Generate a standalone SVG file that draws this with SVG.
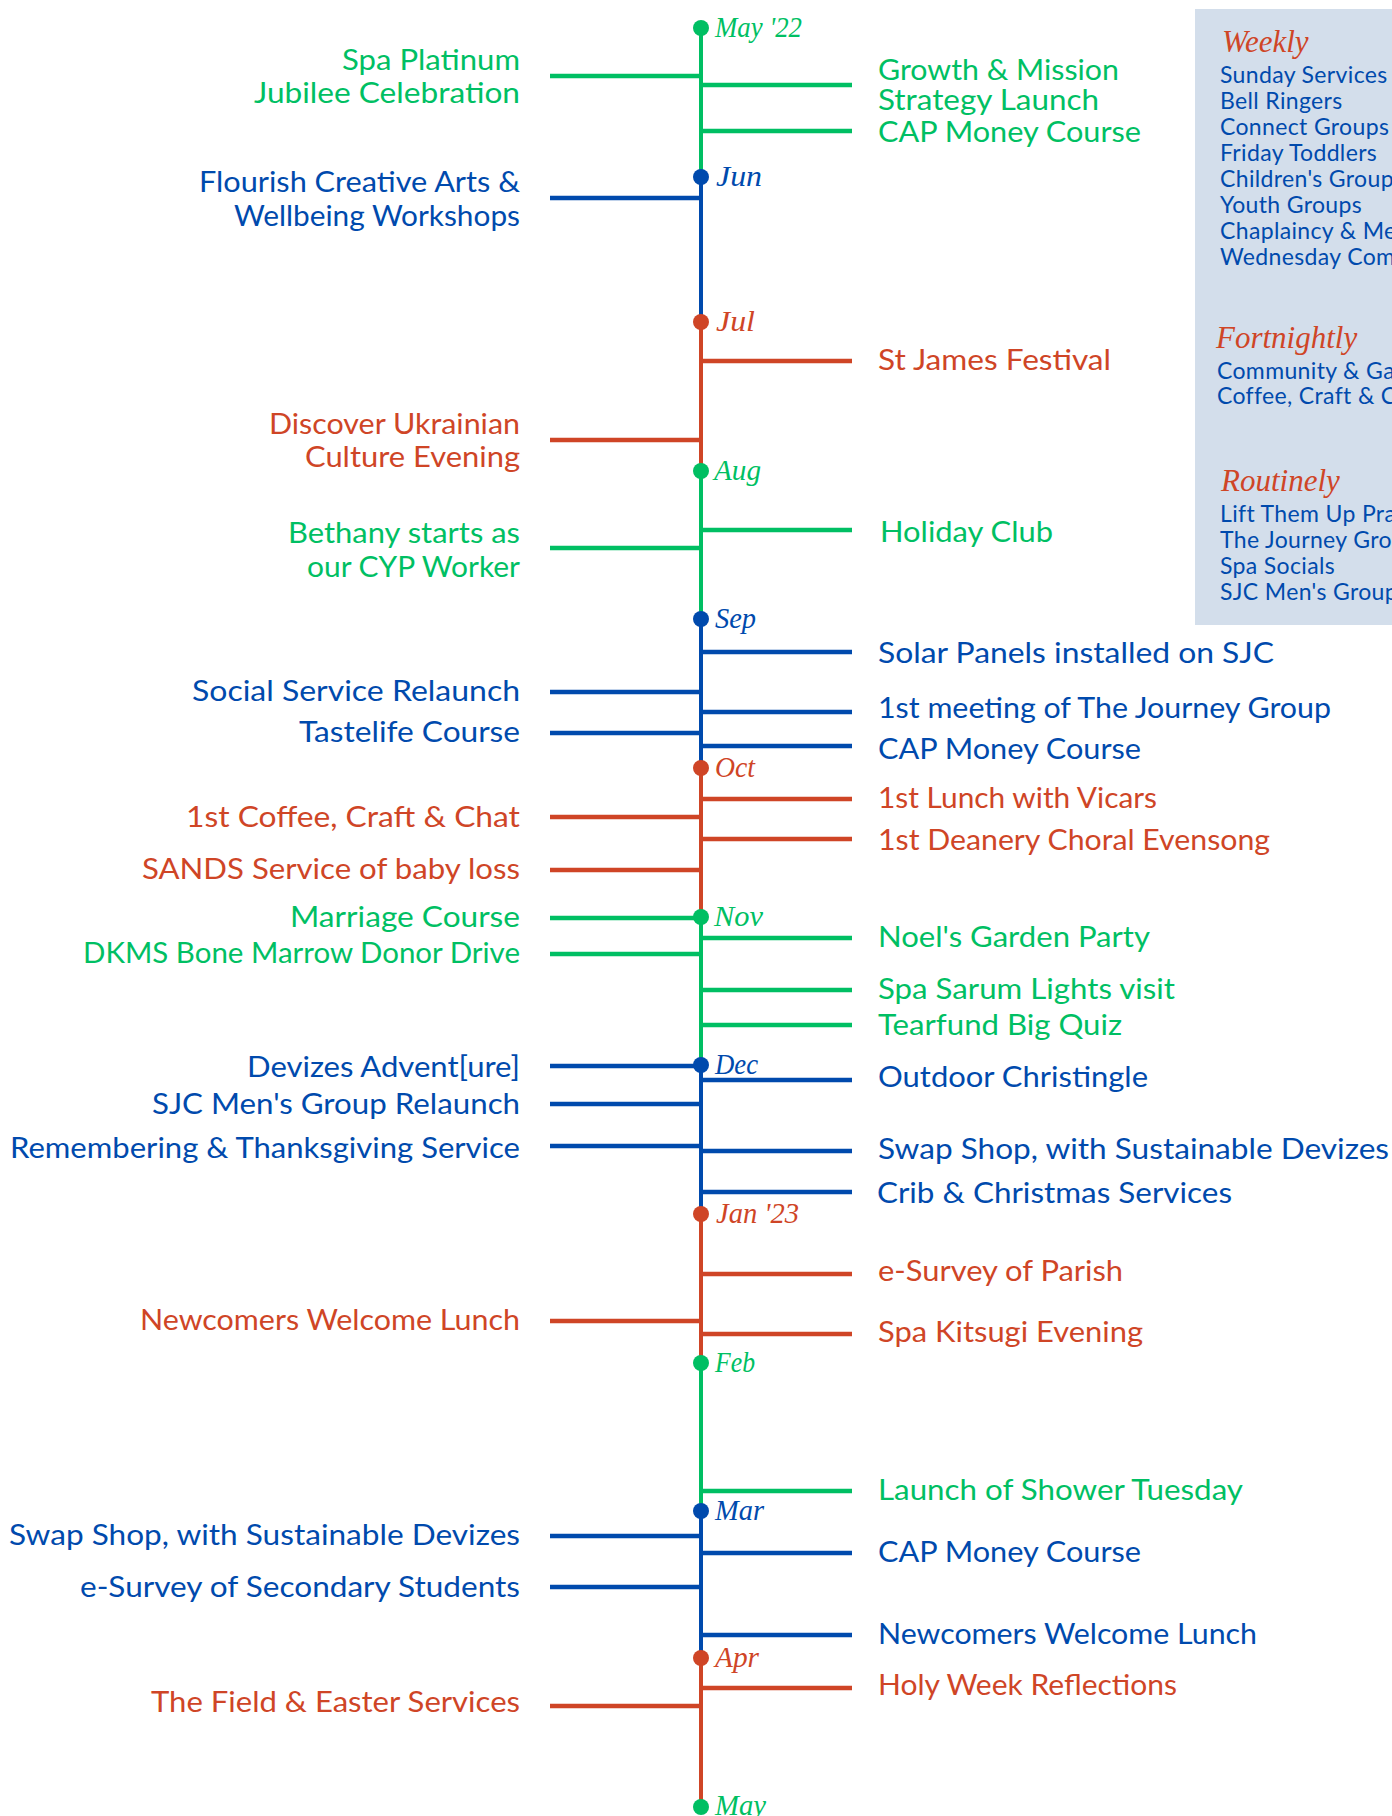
<svg xmlns="http://www.w3.org/2000/svg" width="1392" height="1816" viewBox="0 0 1392 1816">
<defs>
<style>
.lb{font-family:Lato,"Open Sans","Liberation Sans",sans-serif;font-size:29px}
.l{text-anchor:end}
.g{fill:#00BF63}.b{fill:#004AAD}.r{fill:#CF4526}
.mo{font-family:"Liberation Serif","DejaVu Serif",serif;font-style:italic;font-size:29px}
.hd{font-family:"Liberation Serif","DejaVu Serif",serif;font-style:italic;font-size:31px;fill:#CF4526}
.it{font-family:Lato,"Open Sans","Liberation Sans",sans-serif;font-size:23px;letter-spacing:0.35px;fill:#004AAD}
.cg,.cb,.cr{stroke-width:4.5;fill:none}
.cg{stroke:#00BF63}.cb{stroke:#004AAD}.cr{stroke:#CF4526}
.sp{stroke-width:4}
</style>
<clipPath id="panelClip"><rect x="1195" y="9" width="197" height="616"/></clipPath>
</defs>
<rect width="1392" height="1816" fill="#ffffff"/>

<g id="connectors">
  <line class="cg sp" x1="701" y1="28" x2="701" y2="177"/>
  <line class="cb sp" x1="701" y1="177" x2="701" y2="322"/>
  <line class="cr sp" x1="701" y1="322" x2="701" y2="471"/>
  <line class="cg sp" x1="701" y1="471" x2="701" y2="619"/>
  <line class="cb sp" x1="701" y1="619" x2="701" y2="768"/>
  <line class="cr sp" x1="701" y1="768" x2="701" y2="917"/>
  <line class="cg sp" x1="701" y1="917" x2="701" y2="1065"/>
  <line class="cb sp" x1="701" y1="1065" x2="701" y2="1214"/>
  <line class="cr sp" x1="701" y1="1214" x2="701" y2="1363"/>
  <line class="cg sp" x1="701" y1="1363" x2="701" y2="1511"/>
  <line class="cb sp" x1="701" y1="1511" x2="701" y2="1658"/>
  <line class="cr sp" x1="701" y1="1658" x2="701" y2="1807"/>
  <!-- left -->
  <line class="cg" x1="550" y1="76" x2="701" y2="76"/>
  <line class="cb" x1="550" y1="198" x2="701" y2="198"/>
  <line class="cr" x1="550" y1="440" x2="701" y2="440"/>
  <line class="cg" x1="550" y1="548" x2="701" y2="548"/>
  <line class="cb" x1="550" y1="692" x2="701" y2="692"/>
  <line class="cb" x1="550" y1="733" x2="701" y2="733"/>
  <line class="cr" x1="550" y1="817" x2="701" y2="817"/>
  <line class="cr" x1="550" y1="870" x2="701" y2="870"/>
  <line class="cg" x1="550" y1="918" x2="701" y2="918"/>
  <line class="cg" x1="550" y1="954" x2="701" y2="954"/>
  <line class="cb" x1="550" y1="1066" x2="701" y2="1066"/>
  <line class="cb" x1="550" y1="1104" x2="701" y2="1104"/>
  <line class="cb" x1="550" y1="1146" x2="701" y2="1146"/>
  <line class="cr" x1="550" y1="1321" x2="701" y2="1321"/>
  <line class="cb" x1="550" y1="1536" x2="701" y2="1536"/>
  <line class="cb" x1="550" y1="1587" x2="701" y2="1587"/>
  <line class="cr" x1="550" y1="1706" x2="701" y2="1706"/>
  <!-- right -->
  <line class="cg" x1="701" y1="85" x2="852" y2="85"/>
  <line class="cg" x1="701" y1="131" x2="852" y2="131"/>
  <line class="cr" x1="701" y1="361" x2="852" y2="361"/>
  <line class="cg" x1="701" y1="530" x2="852" y2="530"/>
  <line class="cb" x1="701" y1="652" x2="852" y2="652"/>
  <line class="cb" x1="701" y1="712" x2="852" y2="712"/>
  <line class="cb" x1="701" y1="746" x2="852" y2="746"/>
  <line class="cr" x1="701" y1="799" x2="852" y2="799"/>
  <line class="cr" x1="701" y1="839" x2="852" y2="839"/>
  <line class="cg" x1="701" y1="938" x2="852" y2="938"/>
  <line class="cg" x1="701" y1="990" x2="852" y2="990"/>
  <line class="cg" x1="701" y1="1025" x2="852" y2="1025"/>
  <line class="cb" x1="701" y1="1080" x2="852" y2="1080"/>
  <line class="cb" x1="701" y1="1151" x2="852" y2="1151"/>
  <line class="cb" x1="701" y1="1192" x2="852" y2="1192"/>
  <line class="cr" x1="701" y1="1274" x2="852" y2="1274"/>
  <line class="cr" x1="701" y1="1334" x2="852" y2="1334"/>
  <line class="cg" x1="701" y1="1491" x2="852" y2="1491"/>
  <line class="cb" x1="701" y1="1553" x2="852" y2="1553"/>
  <line class="cb" x1="701" y1="1635" x2="852" y2="1635"/>
  <line class="cr" x1="701" y1="1688" x2="852" y2="1688"/>
</g>

<g id="months">
  <g id="m-may22"><circle cx="701" cy="28" r="8" class="g"/><text class="mo g" x="715" y="37" textLength="87" lengthAdjust="spacingAndGlyphs">May '22</text></g>
  <g id="m-jun"><circle cx="701" cy="177" r="8" class="b"/><text class="mo b" x="716" y="186" textLength="46" lengthAdjust="spacingAndGlyphs">Jun</text></g>
  <g id="m-jul"><circle cx="701" cy="322" r="8" class="r"/><text class="mo r" x="716" y="331" textLength="39" lengthAdjust="spacingAndGlyphs">Jul</text></g>
  <g id="m-aug"><circle cx="701" cy="471" r="8" class="g"/><text class="mo g" x="714" y="480" textLength="47" lengthAdjust="spacingAndGlyphs">Aug</text></g>
  <g id="m-sep"><circle cx="701" cy="619" r="8" class="b"/><text class="mo b" x="715" y="628" textLength="41" lengthAdjust="spacingAndGlyphs">Sep</text></g>
  <g id="m-oct"><circle cx="701" cy="768" r="8" class="r"/><text class="mo r" x="715" y="777" textLength="40" lengthAdjust="spacingAndGlyphs">Oct</text></g>
  <g id="m-nov"><circle cx="701" cy="917" r="8" class="g"/><text class="mo g" x="714" y="926" textLength="49" lengthAdjust="spacingAndGlyphs">Nov</text></g>
  <g id="m-dec"><circle cx="701" cy="1065" r="8" class="b"/><text class="mo b" x="715" y="1074" textLength="43" lengthAdjust="spacingAndGlyphs">Dec</text></g>
  <g id="m-jan23"><circle cx="701" cy="1214" r="8" class="r"/><text class="mo r" x="716" y="1223" textLength="83" lengthAdjust="spacingAndGlyphs">Jan '23</text></g>
  <g id="m-feb"><circle cx="701" cy="1363" r="8" class="g"/><text class="mo g" x="715" y="1372" textLength="40" lengthAdjust="spacingAndGlyphs">Feb</text></g>
  <g id="m-mar"><circle cx="701" cy="1511" r="8" class="b"/><text class="mo b" x="715" y="1520" textLength="49" lengthAdjust="spacingAndGlyphs">Mar</text></g>
  <g id="m-apr"><circle cx="701" cy="1658" r="8" class="r"/><text class="mo r" x="715" y="1667" textLength="44" lengthAdjust="spacingAndGlyphs">Apr</text></g>
  <g id="m-may23"><circle cx="701" cy="1807" r="8" class="g"/><text class="mo g" x="715" y="1815" textLength="51" lengthAdjust="spacingAndGlyphs">May</text></g>
</g>

<g id="events-left">
  <g id="e-jubilee"><text class="lb l g" x="520" y="70" textLength="178" lengthAdjust="spacingAndGlyphs">Spa Platinum</text><text class="lb l g" x="520" y="103" textLength="266" lengthAdjust="spacingAndGlyphs">Jubilee Celebration</text></g>
  <g id="e-flourish"><text class="lb l b" x="520" y="192" textLength="321" lengthAdjust="spacingAndGlyphs">Flourish Creative Arts &amp;</text><text class="lb l b" x="520" y="226" textLength="286" lengthAdjust="spacingAndGlyphs">Wellbeing Workshops</text></g>
  <g id="e-ukrainian"><text class="lb l r" x="520" y="434" textLength="251" lengthAdjust="spacingAndGlyphs">Discover Ukrainian</text><text class="lb l r" x="520" y="467" textLength="215" lengthAdjust="spacingAndGlyphs">Culture Evening</text></g>
  <g id="e-bethany"><text class="lb l g" x="520" y="543" textLength="232" lengthAdjust="spacingAndGlyphs">Bethany starts as</text><text class="lb l g" x="520" y="577" textLength="213" lengthAdjust="spacingAndGlyphs">our CYP Worker</text></g>
  <g id="e-social"><text class="lb l b" x="520" y="701" textLength="328" lengthAdjust="spacingAndGlyphs">Social Service Relaunch</text></g>
  <g id="e-tastelife"><text class="lb l b" x="520" y="742" textLength="221" lengthAdjust="spacingAndGlyphs">Tastelife Course</text></g>
  <g id="e-coffee"><text class="lb l r" x="520" y="827" textLength="334" lengthAdjust="spacingAndGlyphs">1st Coffee, Craft &amp; Chat</text></g>
  <g id="e-sands"><text class="lb l r" x="520" y="879" textLength="378" lengthAdjust="spacingAndGlyphs">SANDS Service of baby loss</text></g>
  <g id="e-marriage"><text class="lb l g" x="520" y="927" textLength="230" lengthAdjust="spacingAndGlyphs">Marriage Course</text></g>
  <g id="e-dkms"><text class="lb l g" x="520" y="963" textLength="437" lengthAdjust="spacingAndGlyphs">DKMS Bone Marrow Donor Drive</text></g>
  <g id="e-advent"><text class="lb l b" x="520" y="1077" textLength="273" lengthAdjust="spacingAndGlyphs">Devizes Advent[ure]</text></g>
  <g id="e-mens"><text class="lb l b" x="520" y="1114" textLength="368" lengthAdjust="spacingAndGlyphs">SJC Men's Group Relaunch</text></g>
  <g id="e-remembering"><text class="lb l b" x="520" y="1158" textLength="510" lengthAdjust="spacingAndGlyphs">Remembering &amp; Thanksgiving Service</text></g>
  <g id="e-newcomers1"><text class="lb l r" x="520" y="1330" textLength="380" lengthAdjust="spacingAndGlyphs">Newcomers Welcome Lunch</text></g>
  <g id="e-swap2"><text class="lb l b" x="520" y="1545" textLength="511" lengthAdjust="spacingAndGlyphs">Swap Shop, with Sustainable Devizes</text></g>
  <g id="e-esurvey2"><text class="lb l b" x="520" y="1597" textLength="440" lengthAdjust="spacingAndGlyphs">e-Survey of Secondary Students</text></g>
  <g id="e-field"><text class="lb l r" x="520" y="1712" textLength="369" lengthAdjust="spacingAndGlyphs">The Field &amp; Easter Services</text></g>
</g>

<g id="events-right">
  <g id="e-growth"><text class="lb g" x="878" y="80" textLength="241" lengthAdjust="spacingAndGlyphs">Growth &amp; Mission</text><text class="lb g" x="878" y="110" textLength="221" lengthAdjust="spacingAndGlyphs">Strategy Launch</text></g>
  <g id="e-cap1"><text class="lb g" x="878" y="142" textLength="263" lengthAdjust="spacingAndGlyphs">CAP Money Course</text></g>
  <g id="e-stjames"><text class="lb r" x="878" y="370" textLength="233" lengthAdjust="spacingAndGlyphs">St James Festival</text></g>
  <g id="e-holiday"><text class="lb g" x="880" y="542" textLength="173" lengthAdjust="spacingAndGlyphs">Holiday Club</text></g>
  <g id="e-solar"><text class="lb b" x="878" y="663" textLength="396" lengthAdjust="spacingAndGlyphs">Solar Panels installed on SJC</text></g>
  <g id="e-journey"><text class="lb b" x="878" y="718" textLength="453" lengthAdjust="spacingAndGlyphs">1st meeting of The Journey Group</text></g>
  <g id="e-cap2"><text class="lb b" x="878" y="759" textLength="263" lengthAdjust="spacingAndGlyphs">CAP Money Course</text></g>
  <g id="e-lunch"><text class="lb r" x="878" y="808" textLength="279" lengthAdjust="spacingAndGlyphs">1st Lunch with Vicars</text></g>
  <g id="e-deanery"><text class="lb r" x="878" y="850" textLength="392" lengthAdjust="spacingAndGlyphs">1st Deanery Choral Evensong</text></g>
  <g id="e-noel"><text class="lb g" x="878" y="947" textLength="272" lengthAdjust="spacingAndGlyphs">Noel's Garden Party</text></g>
  <g id="e-sarum"><text class="lb g" x="878" y="999" textLength="297" lengthAdjust="spacingAndGlyphs">Spa Sarum Lights visit</text></g>
  <g id="e-tearfund"><text class="lb g" x="878" y="1035" textLength="244" lengthAdjust="spacingAndGlyphs">Tearfund Big Quiz</text></g>
  <g id="e-christingle"><text class="lb b" x="878" y="1087" textLength="270" lengthAdjust="spacingAndGlyphs">Outdoor Christingle</text></g>
  <g id="e-swap1"><text class="lb b" x="878" y="1159" textLength="511" lengthAdjust="spacingAndGlyphs">Swap Shop, with Sustainable Devizes</text></g>
  <g id="e-crib"><text class="lb b" x="877" y="1203" textLength="355" lengthAdjust="spacingAndGlyphs">Crib &amp; Christmas Services</text></g>
  <g id="e-esurvey1"><text class="lb r" x="878" y="1281" textLength="245" lengthAdjust="spacingAndGlyphs">e-Survey of Parish</text></g>
  <g id="e-kitsugi"><text class="lb r" x="878" y="1342" textLength="265" lengthAdjust="spacingAndGlyphs">Spa Kitsugi Evening</text></g>
  <g id="e-shower"><text class="lb g" x="878" y="1500" textLength="365" lengthAdjust="spacingAndGlyphs">Launch of Shower Tuesday</text></g>
  <g id="e-cap3"><text class="lb b" x="878" y="1562" textLength="263" lengthAdjust="spacingAndGlyphs">CAP Money Course</text></g>
  <g id="e-newcomers2"><text class="lb b" x="878" y="1644" textLength="379" lengthAdjust="spacingAndGlyphs">Newcomers Welcome Lunch</text></g>
  <g id="e-holyweek"><text class="lb r" x="878" y="1695" textLength="299" lengthAdjust="spacingAndGlyphs">Holy Week Reflections</text></g>
</g>

<g id="legend" clip-path="url(#panelClip)">
  <rect x="1195" y="9" width="197" height="616" fill="#D3DEEB"/>
  <g id="legend-weekly">
    <text class="hd" x="1222" y="52">Weekly</text>
    <text class="it" x="1220" y="83">Sunday Services</text>
    <text class="it" x="1220" y="109">Bell Ringers</text>
    <text class="it" x="1220" y="135">Connect Groups</text>
    <text class="it" x="1220" y="161">Friday Toddlers</text>
    <text class="it" x="1220" y="187">Children's Group</text>
    <text class="it" x="1220" y="213">Youth Groups</text>
    <text class="it" x="1220" y="239">Chaplaincy &amp; Me</text>
    <text class="it" x="1220" y="265">Wednesday Com</text>
  </g>
  <g id="legend-fortnightly">
    <text class="hd" x="1216" y="348">Fortnightly</text>
    <text class="it" x="1217" y="379">Community &amp; Ga</text>
    <text class="it" x="1217" y="404">Coffee, Craft &amp; C</text>
  </g>
  <g id="legend-routinely">
    <text class="hd" x="1221" y="491">Routinely</text>
    <text class="it" x="1220" y="522">Lift Them Up Pray</text>
    <text class="it" x="1220" y="548">The Journey Grou</text>
    <text class="it" x="1220" y="574">Spa Socials</text>
    <text class="it" x="1220" y="600">SJC Men's Group</text>
  </g>
</g>
</svg>
